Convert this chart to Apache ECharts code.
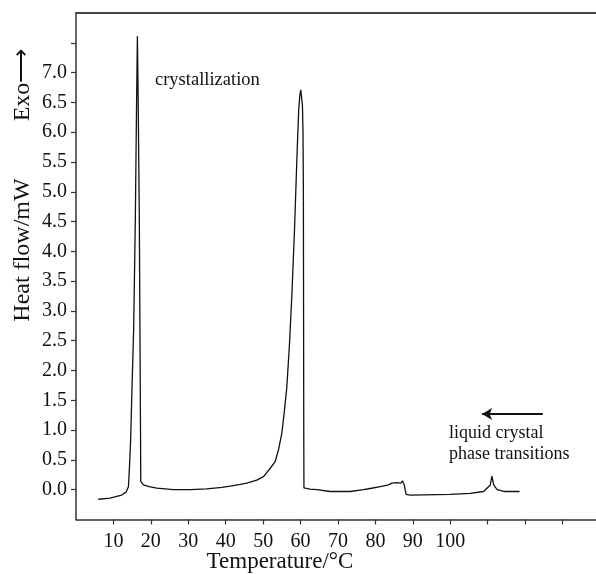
<!DOCTYPE html>
<html>
<head>
<meta charset="utf-8">
<script src="https://cdn.jsdelivr.net/npm/echarts@6/dist/echarts.min.js"></script>
<style>
html,body{margin:0;padding:0;background:#fff;}
#chart{width:596px;height:574px;}
</style>
</head>
<body>
<div id="chart"></div>
<script>
// Temperature (°C) values of the DSC trace
const temperature = [5.96, 9.1, 12.2, 13.4, 14.0, 14.3, 14.6, 15.0, 15.4, 15.85, 16.15, 16.4, 16.6, 16.92, 17.1, 17.25, 17.3, 18.0, 19.5, 21.6, 26, 30.5, 34.9, 39, 41.2, 43.9, 45.6, 48.3, 50.1, 51.9, 53.2, 54.1, 55.0, 55.6, 56.3, 57.0, 57.7, 58.4, 59.0, 59.5, 59.8, 60.05, 60.3, 60.5, 60.65, 60.75, 60.8, 60.85, 60.9, 62.5, 64.4, 67.9, 73.3, 76.8, 78.6, 81.3, 83.5, 84.4, 85.7, 86.8, 87.2, 87.7, 88.2, 89.3, 100, 105.3, 108.9, 109.8, 110.7, 111.1, 111.6, 112.5, 114.3, 118.5];
// Heat flow (mW)
const heatFlow = [-0.16, -0.14, -0.09, -0.04, 0.05, 0.4, 0.84, 1.8, 2.68, 4.53, 6.3, 7.61, 6.6, 4.53, 2.5, 0.84, 0.14, 0.08, 0.05, 0.025, 0.0, 0.0, 0.013, 0.04, 0.06, 0.09, 0.11, 0.16, 0.22, 0.36, 0.47, 0.67, 0.95, 1.28, 1.7, 2.4, 3.3, 4.4, 5.53, 6.37, 6.62, 6.71, 6.68, 6.45, 6.0, 5.0, 3.0, 1.0, 0.03, 0.01, 0.0, -0.03, -0.03, 0.0, 0.02, 0.05, 0.08, 0.11, 0.12, 0.11, 0.15, 0.08, -0.08, -0.09, -0.08, -0.06, -0.03, 0.025, 0.08, 0.23, 0.08, 0.0, -0.03, -0.03];
// Tick labels shown
const xTickLabels = ['10', '20', '30', '40', '50', '60', '70', '80', '90', '100'];
const yTickLabels = ['0.0', '0.5', '1.0', '1.5', '2.0', '2.5', '3.0', '3.5', '4.0', '4.5', '5.0', '5.5', '6.0', '6.5', '7.0'];
// Tick mark positions
const xTicks = [10, 20, 30, 40, 50, 60, 70, 80, 90, 100, 110, 120, 130];
const yTicks = [0, 0.5, 1, 1.5, 2, 2.5, 3, 3.5, 4, 4.5, 5, 5.5, 6, 6.5, 7, 7.5];
// Annotation arrow (data coords: from -> to)
const arrowFrom = [124.7, 1.27];
const arrowTo = [108.5, 1.27];

const FONT = '"Liberation Serif", "Times New Roman", serif';
const seriesData = temperature.map((t, i) => [t, heatFlow[i]]);

const chart = echarts.init(document.getElementById('chart'), null, {renderer: 'canvas'});
chart.setOption({
  animation: false,
  backgroundColor: '#ffffff',
  grid: {left: 76, right: -4, top: 13, bottom: 54.5, show: false, containLabel: false, outerBoundsMode: 'none'},
  xAxis: [{
    type: 'value', position: 'bottom', min: 0, max: 140, interval: 10,
    axisLine: {show: true, onZero: false, lineStyle: {color: '#333', width: 1.5}},
    axisTick: {show: true, length: 5, customValues: xTicks, lineStyle: {color: '#333', width: 1.2}},
    splitLine: {show: false},
    axisLabel: {
      margin: 12, color: '#111', fontFamily: FONT, fontSize: 20,
      showMinLabel: true, showMaxLabel: true,
      formatter: v => { const s = String(Math.round(v)); return xTickLabels.includes(s) ? s : ''; }
    }
  }, {
    type: 'value', position: 'top', min: 0, max: 140, interval: 10,
    axisLine: {show: true, onZero: false, lineStyle: {color: '#444', width: 1.8}},
    axisTick: {show: false}, axisLabel: {show: false}, splitLine: {show: false}
  }],
  yAxis: {
    type: 'value', min: -0.5, max: 8, interval: 0.5,
    axisLine: {show: true, onZero: false, lineStyle: {color: '#333', width: 1.5}},
    axisTick: {show: true, length: 5, customValues: yTicks, lineStyle: {color: '#333', width: 1.2}},
    splitLine: {show: false},
    axisLabel: {
      margin: 9, color: '#111', fontFamily: FONT, fontSize: 20,
      formatter: v => { const s = v.toFixed(1); return yTickLabels.includes(s) ? s : ''; }
    }
  },
  series: [{
    type: 'line',
    xAxisIndex: 0,
    data: seriesData,
    showSymbol: false,
    smooth: false,
    lineStyle: {color: '#111', width: 1.3},
    markLine: {
      silent: true,
      animation: false,
      symbol: ['none', 'arrow'],
      symbolSize: [9, 10],
      label: {show: false},
      lineStyle: {color: '#111', width: 2, type: 'solid'},
      data: [[{coord: arrowFrom}, {coord: arrowTo}]]
    }
  }],
  graphic: [
    {type: 'text', x: 155, y: 80, style: {text: 'crystallization', font: '18.5px ' + FONT, fill: '#111', verticalAlign: 'middle'}},
    {type: 'text', x: 449, y: 433, style: {text: 'liquid crystal', font: '18px ' + FONT, fill: '#111', verticalAlign: 'middle'}},
    {type: 'text', x: 449, y: 454, style: {text: 'phase transitions', font: '18px ' + FONT, fill: '#111', verticalAlign: 'middle'}},
    {type: 'text', x: 23, y: 85, rotation: Math.PI / 2, style: {text: 'Exo\u27F6', font: '24px ' + FONT, fill: '#111', align: 'center', verticalAlign: 'middle'}},
    {type: 'text', x: 23, y: 250, rotation: Math.PI / 2, style: {text: 'Heat flow/mW', font: '24px ' + FONT, fill: '#111', align: 'center', verticalAlign: 'middle'}},
    {type: 'text', x: 280, y: 562, style: {text: 'Temperature/°C', font: '23px ' + FONT, fill: '#111', align: 'center', verticalAlign: 'middle'}}
  ]
});
</script>
</body>
</html>
